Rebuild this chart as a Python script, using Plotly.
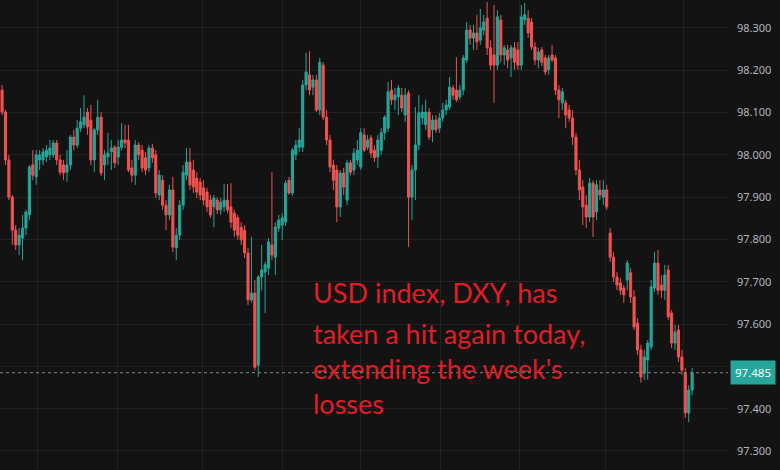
import plotly.graph_objects as go

open_ = [98.153, 98.101, 97.988, 97.900, 97.822, 97.787, 97.803, 97.827, 97.858, 97.976,
         97.948, 97.988, 97.988, 97.995, 98.000, 98.000, 98.028, 97.988, 97.976, 97.959,
         97.976, 98.042, 98.023, 98.063, 98.071, 98.101, 98.082, 97.988, 98.059, 98.089,
         97.976, 97.995, 98.007, 98.018, 97.995, 98.018, 98.035, 98.035, 97.969, 97.952,
         98.023, 98.011, 97.993, 97.969, 98.016, 98.000, 97.905, 97.940, 97.881, 97.858,
         97.917, 97.780, 97.810, 97.881, 97.952, 97.983, 97.964, 97.945, 97.936, 97.922,
         97.912, 97.893, 97.877, 97.893, 97.870, 97.877, 97.893, 97.877, 97.862, 97.851,
         97.829, 97.822, 97.768, 97.657, 97.673, 97.503, 97.711, 97.723, 97.732, 97.787,
         97.758, 97.827, 97.834, 97.841, 97.940, 97.910, 98.000, 98.018, 98.018, 98.165,
         98.189, 98.160, 98.177, 98.106, 98.212, 98.089, 98.035, 97.976, 97.964, 97.877,
         97.957, 97.893, 97.981, 97.964, 97.988, 97.971, 98.047, 98.018, 98.040, 98.011,
         97.995, 98.011, 98.052, 98.063, 98.153, 98.130, 98.137, 98.141, 98.094, 98.146,
         97.900, 97.964, 98.023, 98.087, 98.071, 98.101, 98.059, 98.082, 98.063, 98.087,
         98.106, 98.113, 98.158, 98.153, 98.137, 98.153, 98.224, 98.295, 98.276, 98.288,
         98.271, 98.295, 98.323, 98.253, 98.236, 98.212, 98.319, 98.236, 98.248, 98.229,
         98.253, 98.248, 98.212, 98.319, 98.323, 98.314, 98.255, 98.224, 98.248, 98.229,
         98.201, 98.236, 98.229, 98.153, 98.123, 98.123, 98.106, 98.087, 98.042, 97.964,
         97.924, 97.881, 97.853, 97.933, 97.865, 97.917, 97.900, 97.917, 97.815, 97.758,
         97.711, 97.697, 97.685, 97.704, 97.721, 97.664, 97.602, 97.539, 97.484, 97.515,
         97.546, 97.685, 97.744, 97.692, 97.680, 97.728, 97.626, 97.555, 97.586, 97.522,
         97.484, 97.390, 97.444]

high = [98.165, 98.106, 98.000, 97.905, 97.834, 97.827, 97.858, 97.870, 97.976, 98.011,
        98.011, 98.011, 98.016, 98.023, 98.035, 98.035, 98.035, 98.000, 97.988, 98.011,
        98.047, 98.059, 98.082, 98.111, 98.141, 98.111, 98.118, 98.063, 98.130, 98.101,
        98.011, 98.052, 98.035, 98.023, 98.035, 98.075, 98.071, 98.071, 97.988, 98.035,
        98.030, 98.023, 98.007, 98.023, 98.026, 98.011, 97.964, 97.952, 97.893, 97.929,
        97.948, 97.827, 97.893, 97.976, 98.016, 98.016, 97.988, 97.959, 97.945, 97.940,
        97.922, 97.905, 97.905, 97.900, 97.898, 97.931, 97.931, 97.933, 97.870, 97.858,
        97.841, 97.834, 97.780, 97.806, 97.704, 97.716, 97.787, 97.747, 97.803, 97.959,
        97.841, 97.858, 97.862, 97.940, 97.948, 98.016, 98.035, 98.063, 98.177, 98.241,
        98.245, 98.189, 98.189, 98.229, 98.219, 98.106, 98.047, 97.988, 97.976, 97.964,
        97.969, 97.988, 97.988, 98.016, 98.035, 98.063, 98.063, 98.047, 98.047, 98.023,
        98.047, 98.063, 98.094, 98.172, 98.177, 98.158, 98.165, 98.158, 98.158, 98.153,
        97.976, 98.113, 98.141, 98.118, 98.130, 98.111, 98.094, 98.094, 98.099, 98.123,
        98.130, 98.184, 98.165, 98.231, 98.165, 98.236, 98.314, 98.307, 98.307, 98.331,
        98.345, 98.331, 98.361, 98.271, 98.354, 98.342, 98.331, 98.260, 98.260, 98.260,
        98.267, 98.267, 98.354, 98.359, 98.342, 98.323, 98.267, 98.253, 98.255, 98.236,
        98.236, 98.260, 98.236, 98.165, 98.158, 98.130, 98.118, 98.106, 98.052, 97.988,
        97.940, 97.905, 97.945, 97.940, 97.940, 97.940, 97.940, 97.929, 97.827, 97.770,
        97.723, 97.709, 97.692, 97.751, 97.732, 97.680, 97.614, 97.551, 97.539, 97.562,
        97.704, 97.770, 97.775, 97.716, 97.740, 97.740, 97.633, 97.598, 97.598, 97.539,
        97.496, 97.456, 97.496]

low = [98.094, 97.976, 97.893, 97.787, 97.775, 97.763, 97.751, 97.810, 97.846, 97.940,
       97.929, 97.964, 97.976, 97.983, 97.988, 97.993, 97.976, 97.952, 97.940, 97.936,
       97.964, 98.011, 98.016, 98.054, 98.063, 98.047, 97.976, 97.959, 98.047, 97.950,
       97.940, 97.976, 97.964, 97.969, 97.976, 98.011, 98.016, 97.959, 97.936, 97.929,
       97.988, 97.959, 97.952, 97.959, 97.981, 97.898, 97.893, 97.870, 97.822, 97.846,
       97.770, 97.751, 97.799, 97.870, 97.940, 97.917, 97.910, 97.898, 97.893, 97.881,
       97.865, 97.851, 97.829, 97.860, 97.858, 97.865, 97.862, 97.827, 97.806, 97.799,
       97.787, 97.756, 97.645, 97.650, 97.491, 97.475, 97.680, 97.626, 97.716, 97.751,
       97.716, 97.818, 97.799, 97.832, 97.905, 97.903, 97.988, 98.007, 98.007, 98.153,
       98.141, 98.141, 98.101, 98.094, 98.082, 98.023, 97.959, 97.917, 97.841, 97.853,
       97.905, 97.881, 97.952, 97.952, 97.976, 97.964, 98.007, 98.011, 97.993, 97.983,
       97.969, 98.000, 98.035, 98.054, 98.118, 98.106, 98.094, 98.101, 98.078, 97.782,
       97.846, 97.893, 98.011, 98.071, 98.059, 98.035, 98.030, 98.052, 98.052, 98.078,
       98.094, 98.106, 98.130, 98.125, 98.130, 98.141, 98.217, 98.260, 98.248, 98.248,
       98.260, 98.283, 98.236, 98.201, 98.123, 98.201, 98.219, 98.212, 98.205, 98.184,
       98.201, 98.201, 98.201, 98.307, 98.276, 98.248, 98.212, 98.205, 98.210, 98.189,
       98.189, 98.219, 98.141, 98.087, 98.106, 98.063, 98.078, 98.023, 97.952, 97.893,
       97.834, 97.827, 97.841, 97.806, 97.846, 97.893, 97.881, 97.870, 97.747, 97.699,
       97.680, 97.669, 97.650, 97.680, 97.650, 97.586, 97.527, 97.461, 97.468, 97.468,
       97.539, 97.676, 97.669, 97.662, 97.657, 97.610, 97.543, 97.539, 97.510, 97.480,
       97.378, 97.368, 97.432]

close = [98.101, 97.988, 97.900, 97.822, 97.787, 97.810, 97.827, 97.865, 97.971, 97.952,
         98.000, 98.000, 98.007, 98.011, 98.016, 98.028, 97.988, 97.959, 97.957, 97.976,
         98.042, 98.023, 98.063, 98.078, 98.089, 98.066, 97.988, 98.059, 98.089, 97.957,
         98.000, 98.004, 98.016, 97.981, 98.018, 98.035, 98.028, 97.964, 97.952, 98.023,
         98.000, 97.969, 97.964, 98.016, 97.993, 97.910, 97.952, 97.881, 97.858, 97.917,
         97.782, 97.810, 97.881, 97.959, 97.983, 97.929, 97.924, 97.912, 97.905, 97.893,
         97.877, 97.858, 97.898, 97.870, 97.888, 97.893, 97.870, 97.841, 97.822, 97.810,
         97.799, 97.768, 97.657, 97.673, 97.498, 97.711, 97.728, 97.740, 97.794, 97.763,
         97.829, 97.846, 97.851, 97.933, 97.910, 98.011, 98.023, 98.035, 98.165, 98.196,
         98.153, 98.177, 98.106, 98.219, 98.089, 98.035, 97.971, 97.940, 97.877, 97.957,
         97.924, 97.981, 97.959, 98.004, 98.011, 98.052, 98.011, 98.035, 98.004, 97.993,
         98.035, 98.052, 98.089, 98.149, 98.130, 98.141, 98.158, 98.111, 98.141, 97.900,
         97.964, 98.023, 98.099, 98.101, 98.101, 98.042, 98.082, 98.059, 98.087, 98.106,
         98.118, 98.160, 98.141, 98.130, 98.153, 98.229, 98.295, 98.276, 98.288, 98.267,
         98.300, 98.314, 98.253, 98.212, 98.212, 98.326, 98.236, 98.253, 98.224, 98.253,
         98.219, 98.212, 98.326, 98.331, 98.288, 98.255, 98.224, 98.243, 98.219, 98.196,
         98.229, 98.224, 98.153, 98.130, 98.149, 98.094, 98.087, 98.042, 97.964, 97.917,
         97.877, 97.853, 97.933, 97.853, 97.929, 97.905, 97.917, 97.877, 97.758, 97.711,
         97.692, 97.680, 97.669, 97.744, 97.664, 97.593, 97.539, 97.475, 97.522, 97.555,
         97.688, 97.744, 97.680, 97.680, 97.716, 97.617, 97.555, 97.581, 97.522, 97.491,
         97.390, 97.444, 97.485]

bar_index = list(range(len(close)))
session_breaks = [10.5, 33.7, 58.8, 82.0, 104.8, 128.2, 151.5, 176.5, 199.4]
price_ticks = [97.3, 97.4, 97.6, 97.7, 97.8, 97.9, 98.0, 98.1, 98.2, 98.3]
hidden_grid = [97.5]
last_price = 97.485
note_lines = ["USD index, DXY, has", "taken a hit again today,",
              "extending the week's", "losses"]

UP = "#26a69a"
DOWN = "#ef5350"
BG = "#131313"
GRID = "#222222"

fig = go.Figure(go.Candlestick(
    x=bar_index, open=open_, high=high, low=low, close=close,
    increasing=dict(line=dict(color=UP, width=1), fillcolor=UP),
    decreasing=dict(line=dict(color=DOWN, width=1), fillcolor=DOWN),
    whiskerwidth=0, showlegend=False, hoverinfo="skip",
))

for g in hidden_grid:
    fig.add_shape(type="line", xref="paper", x0=0, x1=1, yref="y", y0=g, y1=g,
                  line=dict(color=GRID, width=1), layer="below")

fig.add_shape(type="line", xref="paper", x0=0, x1=1, yref="y",
              y0=last_price, y1=last_price,
              line=dict(color="#7a8a88", width=1, dash="dot"))

fig.add_annotation(xref="paper", x=1, xanchor="left", xshift=2,
                   yref="y", y=last_price, yanchor="middle",
                   text=f"{last_price:.3f}", showarrow=False,
                   bgcolor=UP, borderpad=4,
                   font=dict(color="white", size=11.5, family="Noto Sans"))

line_centers = [0.378, 0.291, 0.215, 0.141]
for txt, yc in zip(note_lines, line_centers):
    fig.add_annotation(xref="paper", x=311 / 728, xanchor="left",
                       yref="paper", y=yc, yanchor="middle",
                       text=txt, showarrow=False, align="left",
                       font=dict(color="#e11d25", size=27, family="Lato"))

fig.update_layout(
    width=780, height=470,
    margin=dict(l=0, r=52, t=0, b=0),
    paper_bgcolor=BG, plot_bgcolor=BG,
    boxgap=0.12,
    xaxis=dict(range=[-0.6, 212.5], rangeslider=dict(visible=False),
               tickvals=session_breaks, showticklabels=False,
               showgrid=True, gridcolor=GRID, gridwidth=1, zeroline=False,
               showline=False, fixedrange=True),
    yaxis=dict(side="right", range=[97.255, 98.366],
               tickvals=price_ticks, tickformat=".3f",
               showgrid=True, gridcolor=GRID, gridwidth=1, zeroline=False,
               showline=False, ticks="", ticklabelstandoff=8,
               tickfont=dict(color="#b2b5be", size=11, family="Noto Sans")),
    font=dict(family="Noto Sans"),
)

fig.write_html("out.html", config={"displayModeBar": False},
               post_script="document.body.style.margin='0';document.body.style.background='#131313';")
